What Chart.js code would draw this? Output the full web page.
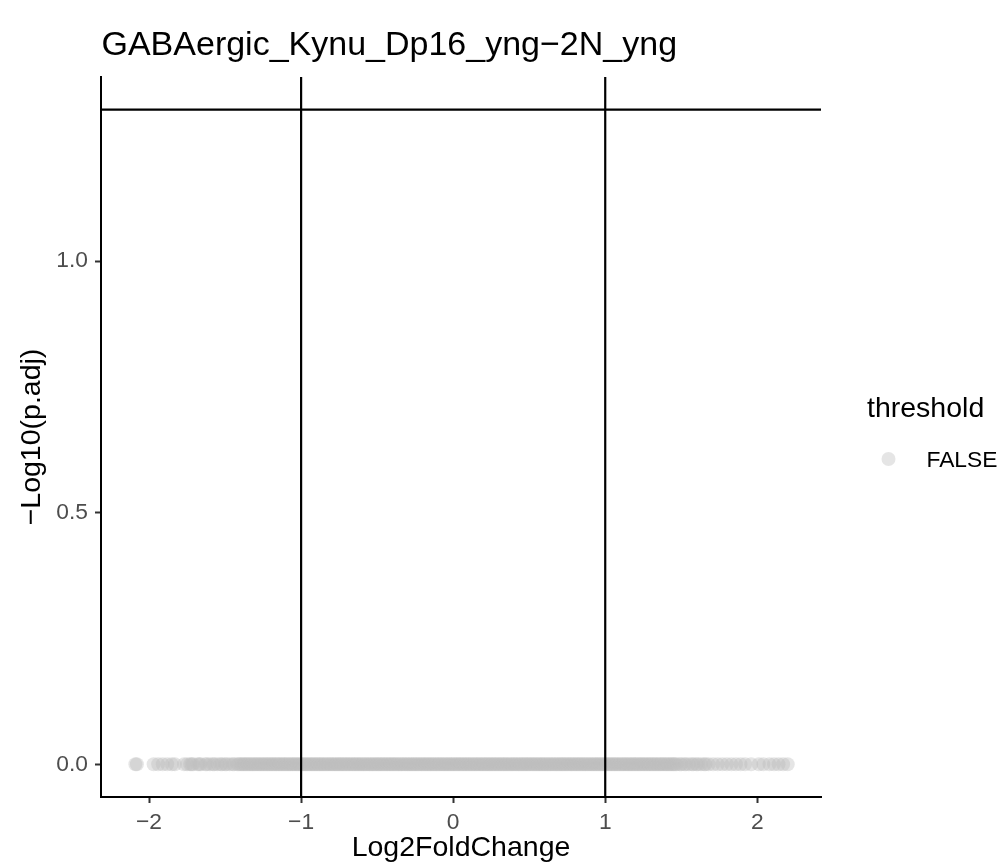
<!DOCTYPE html>
<html>
<head>
<meta charset="utf-8">
<script src="https://cdn.jsdelivr.net/npm/chart.js@4"></script>
<style>
  html, body { margin: 0; padding: 0; background: #fff; }
  #wrap { width: 1003px; height: 865px; }
</style>
</head>
<body>
<div id="wrap"><canvas id="volcano" width="1003" height="865"></canvas></div>
<script>
// Volcano plot data
const plotTitle = 'GABAergic_Kynu_Dp16_yng\u22122N_yng';

// every gene sits at p.adj = 1, so -log10(p.adj) = 0
const pAdj = 1;

// log2 fold changes: sparse tails and the thinner shoulders of the band
const log2FoldChange = [
    -2.09, -2.08, -1.97, -1.94, -1.91, -1.88, -1.85, -1.83, -1.77, -1.75,
    -1.73, -1.71, -1.68, -1.66, -1.63, -1.60, -1.58, -1.55, -1.52, -1.50,
    -1.47, -1.45, -1.42, -1.40,
    -1.38, -1.36, -1.34, -1.32, -1.30, -1.29, -1.27, -1.25, -1.23, -1.21,
    -1.19, -1.17, -1.15, -1.13, -1.12, -1.10, -1.08, -1.06, -1.04, -1.02,
    -1.00, -0.98, -0.96, -0.95, -0.93, -0.91, -0.89, -0.87, -0.85, -0.83,
    -0.81, -0.79, -0.78, -0.76, -0.74, -0.72, -0.70, -0.68, -0.66, -0.64,
    -0.62, -0.61, -0.59, -0.57, -0.55, -0.53, -0.51, -0.49, -0.47, -0.45,
    -0.44, -0.42, -0.40, -0.38, -0.36, -0.34, -0.32, -0.30, -0.28, -0.27,
    -0.25, -0.23, -0.21, -0.19, -0.17, -0.15, -0.13, -0.11, -0.10, -0.08,
    -0.06, -0.04, -0.02, 0.00, 0.02, 0.04, 0.06, 0.07, 0.09, 0.11,
    0.13, 0.15, 0.17, 0.19, 0.21, 0.23, 0.24, 0.26, 0.28, 0.30,
    0.32, 0.34, 0.36, 0.38, 0.40, 0.41, 0.43, 0.45, 0.47, 0.49,
    0.51, 0.53, 0.55, 0.57, 0.58, 0.60, 0.62, 0.64, 0.66, 0.68,
    0.70, 0.72, 0.74, 0.75, 0.77, 0.79, 0.81, 0.83, 0.85, 0.87,
    0.89, 0.91, 0.92, 0.94, 0.96, 0.98, 1.00, 1.02, 1.04, 1.06,
    1.08, 1.09, 1.11, 1.13, 1.15, 1.17, 1.19, 1.21, 1.23, 1.25,
    1.26, 1.28, 1.30, 1.32, 1.34, 1.36, 1.38, 1.40, 1.42, 1.43, 1.45,
    1.47, 1.50, 1.52, 1.55, 1.58, 1.60, 1.63, 1.66, 1.68, 1.71,
    1.74, 1.77, 1.80, 1.83, 1.86, 1.89, 1.92,
    1.96, 2.01, 2.04, 2.08, 2.11, 2.14, 2.17, 2.20
];

// more genes packed into the solid middle of the band
const log2FoldChangeCore = [
    -1.72, -1.67, -1.62, -1.57, -1.53, -1.49, -1.44, -1.41,
    -1.39, -1.37, -1.35, -1.33, -1.31, -1.28, -1.26, -1.24, -1.22, -1.20,
    -1.18, -1.16, -1.14, -1.11, -1.09, -1.07, -1.05, -1.03, -1.01, -0.99,
    -0.97, -0.94, -0.92, -0.90, -0.88, -0.86, -0.84, -0.82, -0.80, -0.77,
    -0.75, -0.73, -0.71, -0.69, -0.67, -0.65, -0.63, -0.60, -0.58, -0.56,
    -0.54, -0.52, -0.50, -0.48, -0.46, -0.43, -0.41, -0.39, -0.37, -0.35,
    -0.33, -0.31, -0.29, -0.26, -0.24, -0.22, -0.20, -0.18, -0.16, -0.14,
    -0.12, -0.09, -0.07, -0.05, -0.03, -0.01, 0.01, 0.03, 0.05, 0.08,
    0.10, 0.12, 0.14, 0.16, 0.18, 0.20, 0.22, 0.25, 0.27, 0.29,
    0.31, 0.33, 0.35, 0.37, 0.39, 0.42, 0.44, 0.46, 0.48, 0.50,
    0.52, 0.54, 0.56, 0.59, 0.61, 0.63, 0.65, 0.67, 0.69, 0.71,
    0.73, 0.76, 0.78, 0.80, 0.82, 0.84, 0.86, 0.88, 0.90, 0.93,
    0.95, 0.97, 0.99, 1.01, 1.03, 1.05, 1.07, 1.10, 1.12, 1.14,
    1.16, 1.18, 1.20, 1.22, 1.24, 1.27, 1.29, 1.31, 1.33, 1.35,
    1.37, 1.39, 1.41, 1.44, 1.46, 1.49, 1.53, 1.57, 1.61, 1.65
];

// cut-off lines
const fcCutoffs = [-1, 1];
const padjCutoff = 0.05;

// axes
const xRange = [-2.316, 2.419];
const yRange = [-0.065, 1.366];
const xTicks = [-2, -1, 0, 1, 2];
const yTicks = [0.0, 0.5, 1.0];

const legendTitle = 'threshold';
const legendLabels = ['FALSE'];

const FONT = "'Liberation Sans', Arial, sans-serif";
const pointColor = 'rgba(190,190,190,0.4)';

const yZero = -Math.log10(pAdj);
const hLine = -Math.log10(padjCutoff);

const allFC = log2FoldChange.concat(log2FoldChangeCore);

const datasets = [{
    type: 'scatter',
    label: 'FALSE',
    data: allFC.map(v => ({ x: v, y: yZero })),
    backgroundColor: pointColor,
    borderWidth: 0,
    pointRadius: 7,
    pointHoverRadius: 7,
    order: 2
}];

fcCutoffs.forEach(c => {
    datasets.push({
        type: 'line',
        data: [{ x: c, y: yRange[0] }, { x: c, y: yRange[1] }],
        borderColor: '#000',
        borderWidth: 2.2,
        pointRadius: 0,
        order: 1
    });
});
datasets.push({
    type: 'line',
    data: [{ x: xRange[0], y: hLine }, { x: xRange[1], y: hLine }],
    borderColor: '#000',
    borderWidth: 2.2,
    pointRadius: 0,
    order: 1
});

// title + legend drawn by hand, ggplot style
const decorations = {
    id: 'decorations',
    afterDraw(chart) {
        const ctx = chart.ctx;
        ctx.save();
        ctx.fillStyle = '#000';
        ctx.textBaseline = 'alphabetic';
        ctx.textAlign = 'left';
        ctx.font = '34px ' + FONT;
        ctx.fillText(plotTitle, 101.5, 55);

        ctx.font = '28.5px ' + FONT;
        ctx.fillText(legendTitle, 867, 417);

        legendLabels.forEach((lab, i) => {
            const cy = 459 + i * 30;
            ctx.beginPath();
            ctx.arc(888.5, cy, 7, 0, Math.PI * 2);
            ctx.fillStyle = pointColor;
            ctx.fill();
            ctx.fillStyle = '#000';
            ctx.font = '22.8px ' + FONT;
            ctx.fillText(lab, 926.5, cy + 7.5);
        });
        ctx.restore();
    }
};

const ctx = document.getElementById('volcano').getContext('2d');
new Chart(ctx, {
    data: { datasets: datasets },
    options: {
        responsive: false,
        animation: false,
        layout: { padding: { top: 77, right: 182, left: 0, bottom: 0 } },
        plugins: {
            legend: { display: false },
            tooltip: { enabled: false },
            title: { display: false }
        },
        scales: {
            x: {
                type: 'linear',
                min: xRange[0],
                max: xRange[1],
                afterBuildTicks: scale => { scale.ticks = xTicks.map(v => ({ value: v })); },
                afterFit: scale => { scale.height = 68; },
                grid: {
                    drawOnChartArea: false,
                    drawTicks: true,
                    tickLength: 6,
                    tickColor: '#333333',
                    tickWidth: 2
                },
                border: { display: true, color: '#000', width: 2 },
                ticks: {
                    color: '#4D4D4D',
                    font: { family: FONT, size: 22.8 },
                    padding: 6,
                    maxRotation: 0,
                    callback: v => String(v).replace('-', '\u2212')
                },
                title: {
                    display: true,
                    text: 'Log2FoldChange',
                    color: '#000',
                    font: { family: FONT, size: 28.5, lineHeight: 1.2 },
                    padding: { top: 0, bottom: 0 }
                }
            },
            y: {
                type: 'linear',
                min: yRange[0],
                max: yRange[1],
                afterBuildTicks: scale => { scale.ticks = yTicks.map(v => ({ value: v })); },
                afterFit: scale => { scale.width = 101; },
                grid: {
                    drawOnChartArea: false,
                    drawTicks: true,
                    tickLength: 6,
                    tickColor: '#333333',
                    tickWidth: 2
                },
                border: { display: true, color: '#000', width: 2 },
                ticks: {
                    color: '#4D4D4D',
                    font: { family: FONT, size: 22.8 },
                    padding: 7,
                    callback: v => v.toFixed(1)
                },
                title: {
                    display: true,
                    text: '\u2212Log10(p.adj)',
                    color: '#000',
                    font: { family: FONT, size: 28.5, lineHeight: 1.2 },
                    padding: { top: 15, bottom: 0 }
                }
            }
        }
    },
    plugins: [decorations]
});
</script>
</body>
</html>
